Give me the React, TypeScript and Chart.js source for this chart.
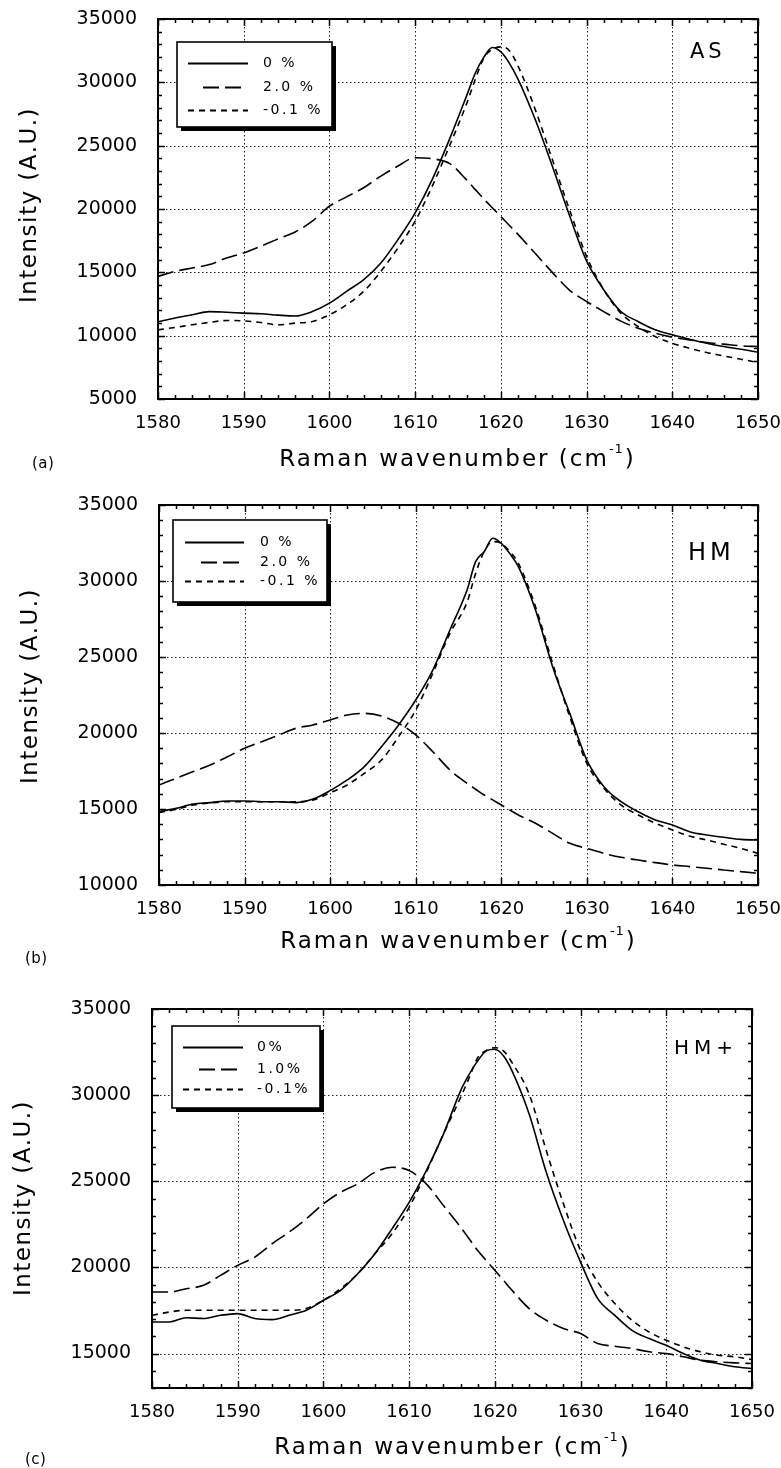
import React, { useEffect, useRef } from "react";
import { Chart, registerables } from "chart.js";

Chart.register(...registerables);
const FONT = '"DejaVu Sans", Verdana, sans-serif';
Chart.defaults.font.family = FONT;

// ---- data ----
const wavenumbers = [
  1580, 1582, 1584, 1586, 1588, 1590, 1592, 1594, 1596, 1598,
  1600, 1602, 1604, 1606, 1608, 1610, 1612, 1614, 1616,
  1617, 1618, 1619, 1620, 1621, 1622,
  1624, 1626, 1628, 1630, 1632, 1634, 1636, 1638, 1640,
  1642, 1644, 1646, 1648, 1650,
];
const xTickValues = [1580, 1590, 1600, 1610, 1620, 1630, 1640, 1650];

// (a) AS
const asZero = [
  11100, 11400, 11650, 11900, 11850, 11780, 11730, 11620, 11550, 11900,
  12570, 13500, 14420, 15740, 17590, 19700, 22340, 25500, 28930,
  30700, 31970, 32750, 32400, 31500, 30250,
  27080, 23390, 19500, 15900, 13630, 11910, 11120, 10460, 10070,
  9720, 9400, 9140, 8930, 8690,
];
const asStrain = [
  14680, 15080, 15340, 15610, 16130, 16530, 17060, 17640, 18190, 19040,
  20220, 20960, 21680, 22600, 23390, 24050, 23970, 23600, 22300,
  21550, 20800, 20100, 19400, 18700, 18000,
  16500, 15000, 13600, 12700, 11900, 11150, 10590, 10200, 9880,
  9670, 9460, 9330, 9200, 9140,
];
const asNeg = [
  10460, 10650, 10860, 11050, 11200, 11170, 11040, 10860, 10990, 11120,
  11650, 12440, 13500, 15080, 16930, 19040, 21810, 24970, 28300,
  30200, 31900, 32600, 32800, 32500, 31300,
  27880, 23920, 19960, 16270, 13630, 11780, 10730, 9930, 9400,
  9010, 8670, 8400, 8140, 7880,
];

// (b) HM
const hmZero = [
  14820, 15040, 15330, 15420, 15530, 15530, 15480, 15480, 15420, 15650,
  16210, 16910, 17790, 19100, 20530, 22170, 24140, 26780, 29410,
  31270, 31930, 32810, 32480, 31800, 30940,
  28090, 24360, 21290, 18220, 16470, 15480, 14820, 14280, 13950,
  13510, 13290, 13140, 13000, 12960,
];
const hmStrain = [
  16580, 17020, 17460, 17890, 18440, 18990, 19430, 19870, 20310, 20530,
  20860, 21180, 21290, 21120, 20640, 19870, 18770, 17570, 16690,
  16300, 15920, 15600, 15260, 14930, 14610,
  14060, 13400, 12740, 12410, 12080, 11820, 11640, 11470, 11320,
  11210, 11100, 10990, 10880, 10770,
];
const hmNeg = [
  14760, 14980, 15260, 15400, 15480, 15480, 15480, 15480, 15480, 15590,
  16070, 16580, 17350, 18220, 19760, 21510, 23930, 26560, 28600,
  30500, 31930, 32590, 32480, 31930, 31160,
  28310, 24580, 21070, 18000, 16360, 15260, 14610, 14060, 13620,
  13220, 12960, 12680, 12410, 12080,
];

// (c) HM+
const hpZero = [
  16830, 16830, 17080, 17030, 17220, 17320, 17030, 16970, 17220, 17510,
  18090, 18670, 19630, 20790, 22240, 23780, 25620, 27740, 30250,
  31200, 31990, 32570, 32660, 32280, 31410,
  28900, 25520, 22720, 20310, 18190, 17220, 16350, 15870, 15480,
  15000, 14610, 14420, 14230, 14130,
];
const hpStrain = [
  18570, 18570, 18760, 18960, 19540, 20120, 20600, 21370, 22050, 22820,
  23690, 24360, 24850, 25520, 25810, 25620, 24850, 23590, 22340,
  21660, 20980, 20400, 19830, 19250, 18670,
  17610, 16930, 16450, 16160, 15580, 15420, 15290, 15100, 15000,
  14810, 14610, 14520, 14460, 14420,
];
const hpNeg = [
  17220, 17410, 17510, 17510, 17510, 17510, 17510, 17510, 17510, 17610,
  18090, 18760, 19630, 20790, 21950, 23490, 25520, 27740, 29860,
  31000, 32180, 32600, 32760, 32570, 31890,
  30060, 26780, 23690, 20980, 19150, 17900, 16930, 16250, 15770,
  15390, 15100, 14900, 14810, 14650,
];

const yTicksA = [5000, 10000, 15000, 20000, 25000, 30000, 35000];
const yTicksB = [10000, 15000, 20000, 25000, 30000, 35000];
const yTicksC = [15000, 20000, 25000, 30000, 35000];

const legendA = ["0 %", "2.0 %", "-0.1 %"];
const legendB = ["0 %", "2.0 %", "-0.1 %"];
const legendC = ["0%", "1.0%", "-0.1%"];

const xTitleMain = "Raman wavenumber (cm";
const xTitleSup = "-1";
const yTitle = "Intensity (A.U.)";

// ---- styles / layout ----
const DASHES = [[], [16, 6], [6, 5]];

const PANELS = [
  {
    top: 0, height: 480, left: 158, right: 758, areaTop: 19, areaBottom: 399,
    yMin: 5000, yMax: 35000, yTicks: yTicksA, series: [asZero, asStrain, asNeg], legend: legendA,
    tag: "AS", tagPos: { x: 690, y: 58, size: 21, ls: 4 }, letter: "(a)", letterPos: { x: 32, y: 464 },
    yTitlePos: { x: 30, y: 205 }, xTitlePos: { x: 457, y: 460 },
    box: { x: 177, y: 42, w: 155, h: 85, lineY: [63, 87, 110], solidX: [188, 248], dashX: [203, 241], textX: 263 },
  },
  {
    top: 480, height: 500, left: 159, right: 758, areaTop: 25, areaBottom: 405,
    yMin: 10000, yMax: 35000, yTicks: yTicksB, series: [hmZero, hmStrain, hmNeg], legend: legendB,
    tag: "HM", tagPos: { x: 688, y: 80, size: 24, ls: 4 }, letter: "(b)", letterPos: { x: 25, y: 479 },
    yTitlePos: { x: 31, y: 206 }, xTitlePos: { x: 458, y: 462 },
    box: { x: 173, y: 40, w: 154, h: 82, lineY: [62, 82, 101], solidX: [185, 244], dashX: [201, 239], textX: 260 },
  },
  {
    top: 980, height: 488, left: 152, right: 752, areaTop: 29, areaBottom: 408,
    yMin: 13000, yMax: 35000, yTicks: yTicksC, series: [hpZero, hpStrain, hpNeg], legend: legendC,
    tag: "HM+", tagPos: { x: 674, y: 74, size: 20, ls: 5 }, letter: "(c)", letterPos: { x: 25, y: 480 },
    yTitlePos: { x: 24, y: 218 }, xTitlePos: { x: 452, y: 468 },
    box: { x: 172, y: 46, w: 148, h: 82, lineY: [67, 89, 109], solidX: [183, 243], dashX: [199, 237], textX: 257 },
  },
];

function makePlugin(p: any) {
  return {
    id: "frame",
    beforeDraw(chart: any) {
      chart.ctx.letterSpacing = "0px";
    },
    beforeDatasetsDraw(chart: any) {
      const { ctx, chartArea: a } = chart;
      const xs = chart.scales.x;
      const ys = chart.scales.y;
      ctx.save();
      ctx.strokeStyle = "#222";
      ctx.lineWidth = 1;
      ctx.setLineDash([1.5, 2.5]);
      ctx.beginPath();
      xTickValues.forEach((v) => {
        if (v <= xs.min || v >= xs.max) return;
        const px = Math.round(xs.getPixelForValue(v)) + 0.5;
        ctx.moveTo(px, a.top);
        ctx.lineTo(px, a.bottom);
      });
      p.yTicks.forEach((v: number) => {
        if (v <= ys.min || v >= ys.max) return;
        const py = Math.round(ys.getPixelForValue(v)) + 0.5;
        ctx.moveTo(a.left, py);
        ctx.lineTo(a.right, py);
      });
      ctx.stroke();
      ctx.restore();
    },
    afterDatasetsDraw(chart: any) {
      const { ctx, chartArea: a } = chart;
      const xs = chart.scales.x;
      const ys = chart.scales.y;
      ctx.save();
      ctx.setLineDash([]);
      ctx.strokeStyle = "#000";
      ctx.lineWidth = 1.5;
      ctx.beginPath();
      for (let v = xs.min; v <= xs.max; v += 2) {
        const px = Math.round(xs.getPixelForValue(v)) + 0.5;
        const len = v % 10 === 0 ? 7 : 4;
        ctx.moveTo(px, a.bottom);
        ctx.lineTo(px, a.bottom - len);
        ctx.moveTo(px, a.top);
        ctx.lineTo(px, a.top + len);
      }
      for (let v = ys.min; v <= ys.max; v += 1000) {
        const py = Math.round(ys.getPixelForValue(v)) + 0.5;
        const len = v % 5000 === 0 ? 7 : 4;
        ctx.moveTo(a.left, py);
        ctx.lineTo(a.left + len, py);
        ctx.moveTo(a.right, py);
        ctx.lineTo(a.right - len, py);
      }
      ctx.stroke();
      ctx.lineWidth = 2;
      ctx.strokeRect(a.left, a.top, a.right - a.left, a.bottom - a.top);

      // legend
      const L = p.box;
      ctx.fillStyle = "#000";
      ctx.fillRect(L.x + 4, L.y + 4, L.w, L.h);
      ctx.fillStyle = "#fff";
      ctx.fillRect(L.x, L.y, L.w, L.h);
      ctx.lineWidth = 1.6;
      ctx.strokeRect(L.x, L.y, L.w, L.h);
      chart.data.datasets.forEach((ds: any, i: number) => {
        const y = L.lineY[i] + 0.5;
        const [x0, x1] = i === 1 ? L.dashX : L.solidX;
        ctx.setLineDash(ds.borderDash || []);
        ctx.lineWidth = 1.8;
        ctx.beginPath();
        ctx.moveTo(x0, y);
        ctx.lineTo(x1, y);
        ctx.stroke();
        ctx.setLineDash([]);
        ctx.font = `14px ${FONT}`;
        ctx.letterSpacing = "2.5px";
        ctx.textAlign = "left";
        ctx.textBaseline = "middle";
        ctx.fillStyle = "#000";
        ctx.fillText(ds.label, L.textX, y);
      });

      // panel tag
      const t = p.tagPos;
      ctx.font = `${t.size}px ${FONT}`;
      ctx.letterSpacing = `${t.ls}px`;
      ctx.textAlign = "left";
      ctx.textBaseline = "alphabetic";
      ctx.fillStyle = "#000";
      ctx.fillText(p.tag, t.x, t.y);
      ctx.restore();
    },
    afterDraw(chart: any) {
      const { ctx } = chart;
      ctx.save();
      ctx.fillStyle = "#000";
      // y title
      ctx.font = `23px ${FONT}`;
      ctx.letterSpacing = "1.5px";
      ctx.save();
      ctx.translate(p.yTitlePos.x, p.yTitlePos.y);
      ctx.rotate(-Math.PI / 2);
      ctx.textAlign = "center";
      ctx.textBaseline = "middle";
      ctx.fillText(yTitle, 0, 0);
      ctx.restore();
      // x title with superscript
      ctx.textAlign = "left";
      ctx.textBaseline = "middle";
      ctx.font = `23px ${FONT}`;
      ctx.letterSpacing = "2px";
      const w1 = ctx.measureText(xTitleMain).width;
      const w3 = ctx.measureText(")").width;
      ctx.font = `13px ${FONT}`;
      ctx.letterSpacing = "1px";
      const w2 = ctx.measureText(xTitleSup).width;
      let x = p.xTitlePos.x - (w1 + w2 + w3) / 2;
      const y = p.xTitlePos.y;
      ctx.font = `23px ${FONT}`;
      ctx.letterSpacing = "2px";
      ctx.fillText(xTitleMain, x, y);
      x += w1;
      ctx.font = `13px ${FONT}`;
      ctx.letterSpacing = "1px";
      ctx.fillText(xTitleSup, x, y - 10);
      x += w2 + 1;
      ctx.font = `23px ${FONT}`;
      ctx.letterSpacing = "2px";
      ctx.fillText(")", x, y);
      // panel letter
      ctx.font = `15px ${FONT}`;
      ctx.letterSpacing = "0.5px";
      ctx.fillText(p.letter, p.letterPos.x, p.letterPos.y);
      ctx.restore();
    },
  };
}

function Panel({ p }: { p: any }) {
  const ref = useRef<HTMLCanvasElement>(null);
  useEffect(() => {
    const canvas = ref.current;
    if (!canvas) return;
    const chart = new Chart(canvas, {
      type: "line",
      data: {
        datasets: p.series.map((vals: number[], i: number) => ({
          label: p.legend[i],
          data: wavenumbers.map((x, j) => ({ x, y: vals[j] })),
          borderColor: "#000",
          borderWidth: 1.6,
          borderDash: DASHES[i],
          pointRadius: 0,
          fill: false,
          cubicInterpolationMode: "monotone",
        })),
      },
      options: {
        responsive: false,
        animation: false,
        devicePixelRatio: 1,
        events: [],
        layout: { padding: { left: 0, top: p.areaTop, right: 781 - p.right, bottom: 0 } },
        plugins: { legend: { display: false }, tooltip: { enabled: false } },
        scales: {
          x: {
            type: "linear",
            min: 1580,
            max: 1650,
            afterBuildTicks: (s: any) => {
              s.ticks = xTickValues.map((v) => ({ value: v }));
            },
            afterFit: (s: any) => {
              s.height = p.height - p.areaBottom;
              s.paddingLeft = 0;
              s.paddingRight = 0;
            },
            grid: { display: false, drawTicks: false },
            border: { display: false },
            ticks: {
              padding: 14,
              color: "#000",
              font: { size: 18, family: FONT },
              maxRotation: 0,
              autoSkip: false,
              callback: (v: any) => String(v),
            },
          },
          y: {
            type: "linear",
            min: p.yMin,
            max: p.yMax,
            afterBuildTicks: (s: any) => {
              s.ticks = p.yTicks.map((v: number) => ({ value: v }));
            },
            afterFit: (s: any) => {
              s.width = p.left;
              s.paddingTop = 0;
              s.paddingBottom = 0;
            },
            grid: { display: false, drawTicks: false },
            border: { display: false },
            ticks: {
              padding: 21,
              color: "#000",
              font: { size: 19, family: FONT },
              autoSkip: false,
              callback: (v: any) => String(v),
            },
          },
        },
      },
      plugins: [makePlugin(p)],
    } as any);
    return () => chart.destroy();
  }, [p]);
  return (
    <canvas
      ref={ref}
      width={781}
      height={p.height}
      style={{ position: "absolute", left: 0, top: p.top, width: 781, height: p.height }}
    />
  );
}

export default function App() {
  return (
    <div style={{ position: "absolute", left: 0, top: 0, width: 781, height: 1468, background: "#fff" }}>
      {PANELS.map((p) => (
        <Panel key={p.letter} p={p} />
      ))}
    </div>
  );
}
